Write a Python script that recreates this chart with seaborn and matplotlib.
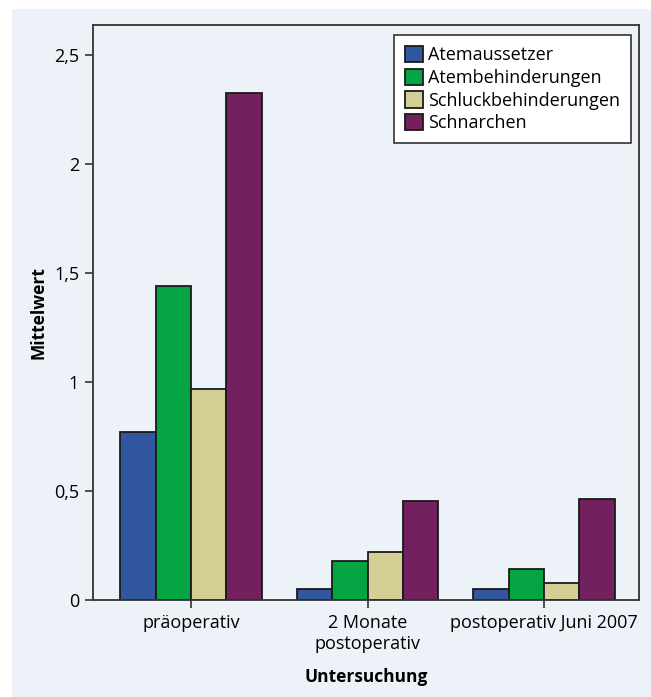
import matplotlib
matplotlib.use('Agg')
import matplotlib.pyplot as plt
import pandas as pd
import seaborn as sns

# Mean scores per examination time point
untersuchung = ['präoperativ', '2 Monate\npostoperativ', 'postoperativ Juni 2007']
gruppen = ['Atemaussetzer', 'Atembehinderungen', 'Schluckbehinderungen', 'Schnarchen']
atemaussetzer = [0.77, 0.05, 0.05]
atembehinderungen = [1.44, 0.179, 0.143]
schluckbehinderungen = [0.968, 0.219, 0.078]
schnarchen = [2.326, 0.453, 0.465]

colors = ['#32579f', '#05a443', '#d3cf95', '#72215e']
bg = '#edf2f9'

# long format for seaborn
werte = [atemaussetzer, atembehinderungen, schluckbehinderungen, schnarchen]
rows = []
for g, vals in zip(gruppen, werte):
    for u, v in zip(untersuchung, vals):
        rows.append({'Untersuchung': u, 'Mittelwert': v, 'Gruppe': g})
df = pd.DataFrame(rows)

sns.set_style('white')
plt.rcParams['font.family'] = ['Open Sans', 'DejaVu Sans']
plt.rcParams['text.color'] = 'black'
plt.rcParams['axes.labelcolor'] = 'black'
plt.rcParams['xtick.color'] = 'black'
plt.rcParams['ytick.color'] = 'black'

fig = plt.figure(figsize=(6.51, 6.97), dpi=100, facecolor='white')
# light blue panel behind the chart
fig.patches.append(plt.Rectangle((12 / 651, 0), 1, 1 - 9 / 697, transform=fig.transFigure,
                                 facecolor=bg, edgecolor='none', zorder=-10))
ax = fig.add_axes([93 / 651, 1 - 600 / 697, (639 - 93) / 651, (600 - 25) / 697])
ax.set_facecolor(bg)

sns.barplot(data=df, x='Untersuchung', y='Mittelwert', hue='Gruppe', order=untersuchung,
            hue_order=gruppen, palette=colors, saturation=1, edgecolor='#1a1a1a',
            linewidth=1.3, width=0.8, gap=0, errorbar=None, ax=ax)

ax.set_xlim(-0.555, 2.538)
ax.set_ylim(0, 2.64)
ax.set_yticks([0, 0.5, 1, 1.5, 2, 2.5])
ax.set_yticklabels(['0', '0,5', '1', '1,5', '2', '2,5'])
ax.tick_params(axis='both', direction='out', length=6, width=1.1, color='#222222',
               labelsize=13, pad=4, left=True, bottom=True)
for s in ax.spines.values():
    s.set_visible(True)
    s.set_color('#333333')
    s.set_linewidth(1.3)

ax.set_xlabel('Untersuchung', fontsize=12.5, fontweight='bold', labelpad=11)
ax.set_ylabel('Mittelwert', fontsize=12.5, fontweight='bold', labelpad=5)

leg = ax.legend(loc='upper right', bbox_to_anchor=(0.9853, 0.9826), borderaxespad=0,
                fontsize=13, frameon=True, fancybox=False, framealpha=1,
                edgecolor='#222222', handlelength=1.0, handleheight=1.0,
                handletextpad=0.3, labelspacing=0.25, borderpad=0.6)
leg.get_frame().set_linewidth(1.1)

fig.savefig('out.png', dpi=100, facecolor='white')
